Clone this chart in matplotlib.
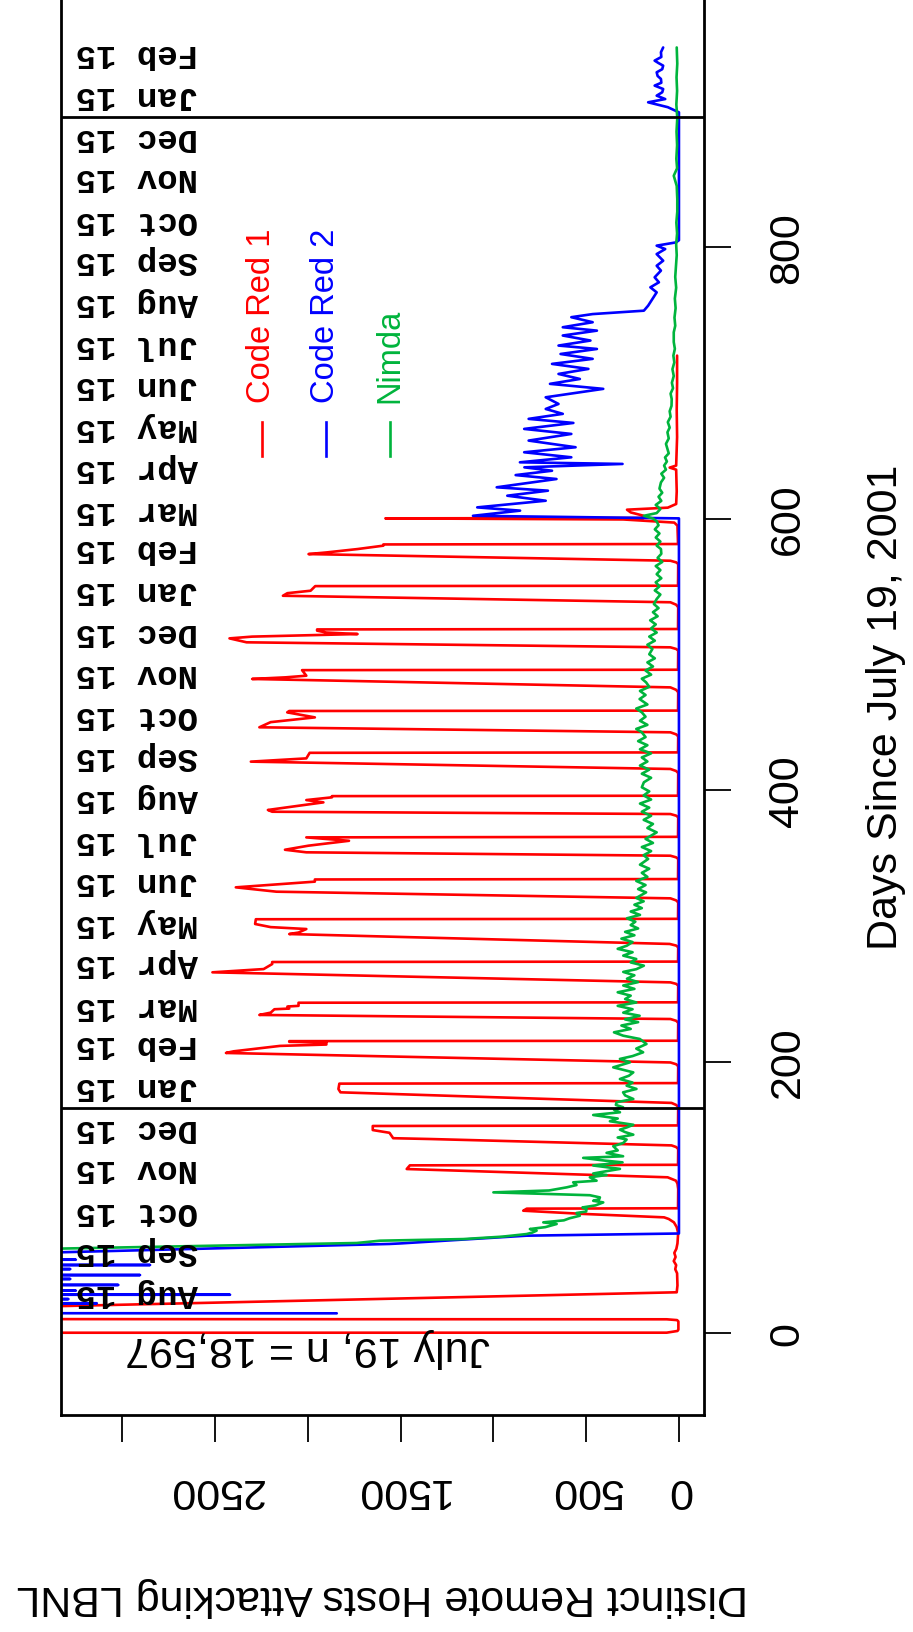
import datetime as dt
import matplotlib
matplotlib.use("Agg")
import matplotlib.pyplot as plt

plt.rcParams['font.family'] = ['Liberation Sans', 'DejaVu Sans']

# ---------------- data (day since 2001-07-19, distinct hosts) ----------------
code_red1 = [
    (0, 18597), (0.25, 66), (1.5, 8), (2.5, 3), (8.5, 3), (9.5, 10), (10.1, 66), (10.4, 8000),
    (18, 6000), (19.3, 3500), (30, 12), (35, 8), (44, 10), (47, 20), (50, 15), (53, 28), (56, 18),
    (59, 25), (62, 14), (66, 8), (72, 5),
    (74.2, 5), (78, 12), (81.5, 27), (84, 55), (85.2, 80), (87.7, 511), (90.1, 839), (91.6, 820), (91.9, 5),
    (106, 4), (110, 8), (112.2, 16), (114.7, 61), (120.8, 1467), (123.5, 1450), (123.9, 5),
    (135.5, 4), (137, 15), (138.2, 40), (142.9, 1340), (143.5, 1540), (147.5, 1560), (149.5, 1650),
    (152.5, 1650), (152.9, 5),
    (166.5, 4), (168, 15), (169.5, 40), (177.3, 1824), (179.7, 1835), (183.7, 1830), (184.1, 5),
    (196.5, 4), (198, 15), (199.3, 46), (206.3, 2441), (207.5, 2400), (211.5, 2150), (212.5, 1900),
    (214, 1900), (214.5, 2100), (215, 2100), (215.3, 5),
    (228.5, 4), (230, 15), (231.3, 46), (234.3, 2261), (236, 2200), (238.5, 2180), (239, 2100),
    (240.5, 2110), (241, 2050), (243.3, 2050), (243.6, 5),
    (255.9, 4), (257.2, 15), (258.3, 46), (265.7, 2514), (268.1, 2238), (271.8, 2192), (273.3, 2192), (273.6, 5),
    (284.1, 4), (285.4, 15), (286.6, 50), (293.9, 2100), (295, 2050), (297.6, 2008), (299, 2200),
    (301.3, 2284), (304.8, 2280), (305.1, 5),
    (317.2, 4), (318.7, 15), (320.2, 46), (325.1, 2169), (328.3, 2388), (332.5, 1962), (334.1, 1962), (334.4, 5),
    (349.2, 4), (350.4, 15), (351.6, 46), (354.1, 2008), (356, 2123), (359, 1996), (362.6, 1778),
    (365.1, 2008), (365.5, 5),
    (379.9, 4), (381.1, 15), (382.3, 46), (384, 2192), (385.3, 2215), (390.9, 1916), (392.6, 2008),
    (394.6, 1870), (395.5, 1870), (395.8, 5),
    (412.5, 4), (414, 15), (415.5, 46), (420.9, 2307), (423.3, 2008), (427.4, 1990), (427.7, 5),
    (439.5, 4), (441, 15), (442.5, 46), (446.2, 2261), (450, 2200), (453.5, 1962), (457.2, 2111),
    (458.2, 2100), (458.5, 5),
    (472, 4), (473.8, 15), (475.6, 46), (481.8, 2300), (483, 2120), (484.2, 2008), (488.3, 2031), (488.6, 5),
    (502.7, 4), (503.9, 15), (505.1, 46), (508.8, 2330), (511.7, 2422), (513, 2300), (514.9, 1732),
    (516, 1900), (517.4, 1950), (518.3, 1950), (518.6, 5),
    (534.6, 4), (536.5, 15), (538.3, 46), (543.1, 2134), (545, 2110), (546.8, 1985), (550.2, 1960), (550.5, 5),
    (566.5, 4), (567.7, 15), (568.9, 46), (573.8, 1996), (575, 1900), (577.5, 1732), (580, 1593),
    (580.9, 1593), (581.2, 5),
    (594.7, 8), (597, 25), (599.3, 300), (600.1, 1582), (600.4, 190), (602, 190), (604.5, 260),
    (606.5, 280), (608, 60), (610.7, 15), (620, 12), (636, 15), (637.5, 50), (639, 15), (660, 10),
    (680, 12), (700, 10), (720, 10),
]

code_red2 = [
    (14.5, 1844), (14.8, 8000), (21.7, 8000), (21.9, 3137), (22.1, 8000), (24.9, 8000), (25.0, 3290),
    (25.1, 8000), (28.0, 8000), (28.2, 2419), (28.4, 8000), (31.1, 8000), (31.2, 3250), (31.3, 8000),
    (35.2, 8000), (35.4, 3021), (35.6, 8000), (39.7, 8000), (39.8, 3280), (39.9, 8000), (42.5, 8000),
    (42.7, 2904), (42.9, 8000), (47.0, 8000), (47.1, 3280), (47.2, 8000), (49.9, 8000), (50.1, 2850),
    (50.3, 8000), (53.9, 8000), (54.0, 3250), (54.1, 8000), (57.5, 3900), (65.6, 1560), (66.0, 1500),
    (71.7, 821), (73.3, 0), (600.1, 0), (602.0, 1110), (605.8, 856), (608.2, 1087), (613.1, 718),
    (616.8, 925), (620.5, 706), (623.0, 982), (629.1, 660), (632.0, 880), (635.2, 684), (637.7, 833),
    (640.2, 304), (641.4, 857), (645.1, 580), (648.8, 834), (652.5, 557), (657.4, 810), (662.3, 580),
    (666.0, 834), (670.4, 569), (673.4, 810), (677.1, 626), (680.7, 718), (684.4, 649), (689.3, 718),
    (695.5, 408), (699.2, 695), (702.8, 534), (706.5, 649), (710.2, 488), (713.9, 684), (717.6, 465),
    (721.2, 638), (724.9, 442), (727.4, 649), (731.1, 477), (734.8, 626), (738.4, 442), (740.9, 626),
    (744.6, 465), (748.3, 580), (750.6, 465), (753.1, 189), (756.8, 166), (761.7, 143), (766.6, 120),
    (770.3, 154), (774.0, 108), (777.7, 131), (782.6, 97), (786.2, 120), (789.9, 85), (794.8, 120),
    (798.5, 74), (801.0, 120), (803.4, 16), (805.0, 0), (899.2, 0), (903.0, 60), (906.6, 166),
    (909.0, 74), (911.5, 120), (914.0, 90), (916.4, 85), (918.9, 131), (921.0, 95), (923.8, 97),
    (926.0, 115), (928.7, 120), (931.0, 90), (933.6, 85), (935.5, 110), (937.3, 131), (940.0, 95),
    (943.5, 97), (947.0, 85),
]

nimda = [
    (61.5, 3600), (66.3, 1737), (68.0, 1611), (69.2, 1162), (71.0, 950), (72.9, 821), (74.0, 790),
    (75.4, 767), (76.6, 803), (78.0, 720), (79.5, 680), (80.3, 659), (81.5, 731), (83.0, 620),
    (84.5, 590), (86.4, 534), (88.4, 552), (89.5, 500), (91.3, 498), (92.5, 520), (94.0, 450),
    (96.2, 408), (97.4, 462), (98.5, 430), (99.9, 426), (101.5, 480), (103.6, 1000), (105.0, 700),
    (107.3, 605), (109.0, 552), (111.0, 570), (112.2, 444), (114.7, 480), (116.4, 390), (117.5, 462),
    (119.0, 400), (120.9, 318), (123.4, 462), (125.7, 304), (127.0, 400), (129.0, 516), (130.2, 301),
    (132.7, 390), (134.5, 330), (137.6, 354), (140.0, 300), (142.5, 282), (144.0, 330), (146.1, 246),
    (148.0, 290), (149.8, 318), (151.5, 280), (153.4, 246), (156.0, 372), (158.0, 330), (160.6, 462),
    (162.6, 318), (164.5, 350), (166.3, 301), (168.0, 340), (170.0, 336), (172.4, 246), (175.0, 290),
    (177.3, 301), (179.8, 229), (182.2, 282), (184.5, 250), (187.1, 318), (189.5, 270), (192.0, 246),
    (195.7, 354), (199.4, 264), (201.9, 318), (204.0, 250), (206.8, 193), (209.5, 230), (212.9, 175),
    (216.6, 211), (219, 300), (221.5, 350), (224, 260), (226.5, 310), (229, 220), (231, 290),
    (233.7, 212), (236, 300), (238.5, 250), (241, 330), (243.5, 230), (246, 290), (248.5, 260),
    (251, 330), (253.5, 240), (256, 300), (258.5, 220), (261, 280), (263.5, 240), (266, 300),
    (268, 230), (270.6, 189), (273, 260), (275.5, 230), (278, 300), (280.5, 250), (283, 330),
    (285.3, 281), (288, 250), (290.5, 310), (293, 240), (295.5, 290), (298, 220), (300.5, 260),
    (303, 235), (305.5, 280), (308, 210), (310.5, 260), (313, 200), (315.5, 240), (318, 190),
    (320.5, 230), (324.6, 177), (327, 220), (330, 180), (333, 230), (336, 170), (339, 200), (342, 160),
    (345, 210), (349.2, 166), (352, 190), (355, 150), (358, 200), (361, 140), (364, 180), (368.8, 120),
    (372, 170), (375, 140), (378, 190), (381, 150), (384, 200), (387, 160), (390, 210), (393, 150),
    (396, 190), (399, 160), (402, 200), (405.7, 189), (409, 150), (412, 200), (415, 160), (418, 210),
    (421, 170), (424, 200), (427, 150), (430, 210), (433, 170), (436, 220), (439, 180), (442.5, 200),
    (445, 230), (448, 170), (451, 210), (454, 180), (457.2, 200), (460, 230), (463, 170), (467, 212),
    (470, 180), (473, 210), (476, 160), (479.3, 177), (482, 200), (485, 150), (488, 180), (491, 140),
    (494, 170), (497, 130), (500, 160), (503.9, 143), (507, 170), (510, 130), (513, 160), (516, 120),
    (519, 150), (522, 125), (525, 155), (528, 115), (531, 140), (534, 110), (537, 135), (540.7, 120),
    (544, 100), (547, 130), (550, 105), (553, 125), (556, 95), (559, 120), (562, 100), (565, 125),
    (568, 90), (571, 115), (574, 95), (577.5, 97), (580, 120), (583, 100), (586, 125), (589, 105),
    (592, 130), (595, 110), (598, 120), (600, 140), (602, 189), (604, 120), (607, 100), (610, 125),
    (613, 95), (616, 110), (619, 90), (622, 105), (626.6, 97), (630, 80), (633, 95), (636, 70),
    (639, 80), (642, 65), (645, 75), (648, 55), (651.2, 62), (655, 70), (659, 55), (663.5, 62),
    (667, 50), (671, 60), (675, 45), (679, 50), (683, 40), (688, 39), (692, 45), (696, 32), (700, 38),
    (705, 28), (710, 35), (715, 25), (720, 30), (725, 22), (730, 28), (737.2, 28), (742, 20), (748, 24),
    (755, 18), (762, 22), (770, 15), (778, 20), (786.2, 16), (794, 12), (802, 15), (810, 10), (818, 14),
    (826, 9), (835.4, 9), (845, 12), (852.5, 28), (858, 10), (865, 14), (875, 10), (885, 13), (895, 9),
    (905, 14), (915, 10), (925, 13), (935, 9), (947, 12),
]

series_names = ["Code Red 1", "Code Red 2", "Nimda"]
series_colors = ["#FF0000", "#0000FF", "#00B43C"]

host_ticks = [0, 500, 1000, 1500, 2000, 2500, 3000]
host_tick_labels = ["0", "500", "", "1500", "", "2500", ""]
day_ticks = [0, 200, 400, 600, 800]
day_tick_labels = ["0", "200", "400", "600", "800"]

origin = dt.date(2001, 7, 19)
month_abbr = ["Jan", "Feb", "Mar", "Apr", "May", "Jun", "Jul", "Aug", "Sep", "Oct", "Nov", "Dec"]
first_month = (2001, 8)
last_month = (2004, 2)
year_marks = [dt.date(2002, 1, 1), dt.date(2004, 1, 1)]
annotation = "July 19, n = 18,597"

# ---------------- figure ----------------
W, H = 913, 1633
fig = plt.figure(figsize=(W / 100, H / 100), dpi=100)
L, R, B, T = 61, 704, 1416, 0
ax = fig.add_axes([L / W, 1 - B / H, (R - L) / W, (B - T) / H])
ax.set_xlim(3330, -135)
ax.set_ylim(-60.4, 982.7)

LW = 1.9
for data, col in zip([code_red1, code_red2, nimda], series_colors):
    d = [p[0] for p in data]
    v = [p[1] for p in data]
    ax.plot(v, d, color=col, lw=LW, solid_joinstyle='round', solid_capstyle='round')

for ym in year_marks:
    ax.axhline((ym - origin).days, color="black", lw=2.0)

# month labels
y, m = first_month
while (y, m) <= last_month:
    day = (dt.date(y, m, 15) - origin).days
    ax.text(2923, day, f"{month_abbr[m - 1]} 15", rotation=180, rotation_mode='anchor',
            ha='center', va='center_baseline', fontsize=24.5, fontweight='bold',
            family=['Liberation Mono', 'DejaVu Sans Mono'])
    m += 1
    if m > 12:
        m = 1
        y += 1

ax.text(2002, -2, annotation, rotation=180, rotation_mode='anchor', ha='center',
        va='baseline', fontsize=31)

# legend
leg_h = [2248, 1903, 1557]
for name, col, hx in zip(series_names, series_colors, leg_h):
    ax.plot([hx, hx], [646, 671], color=col, lw=LW)
    ax.text(hx, 686, name, color=col, rotation=90, rotation_mode='anchor', ha='left',
            va='center', fontsize=23.5)

# spines / ticks
for s in ['left', 'bottom', 'right']:
    ax.spines[s].set_linewidth(2.0)
ax.spines['top'].set_visible(False)

ax.set_xticks(host_ticks)
ax.set_xticklabels(host_tick_labels, rotation=180)
ax.tick_params(axis='x', direction='out', length=19.4, width=1.3, labelsize=31, pad=19.8)

ax.yaxis.tick_right()
ax.set_yticks(day_ticks)
ax.set_yticklabels(day_tick_labels, rotation=90)
ax.tick_params(axis='y', direction='out', length=19.4, width=1.3, labelsize=31, pad=26.3)
for tl in ax.get_yticklabels():
    tl.set_va('center')

fig.text(886 / W, 1 - 707 / H, "Days Since July 19, 2001", rotation=90, ha='center',
         va='center', fontsize=31)
fig.text(382 / W, 1 - 1597 / H, "Distinct Remote Hosts Attacking LBNL", rotation=180,
         ha='center', va='center', fontsize=31)

fig.savefig("out.png", dpi=100)
